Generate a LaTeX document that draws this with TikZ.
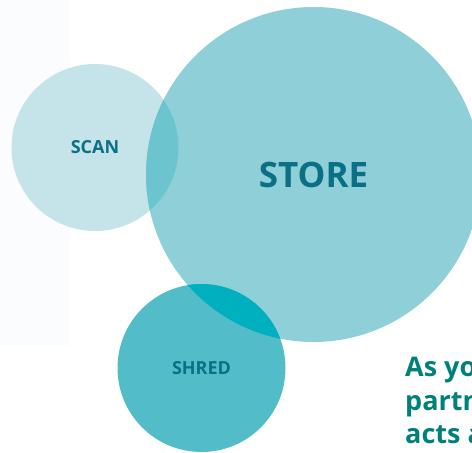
\documentclass[tikz,border=0pt]{standalone}
\usepackage{fontspec}
\setmainfont{Open Sans}
\usetikzlibrary{positioning}
\definecolor{paper}{RGB}{251,252,254}
\definecolor{scanblue}{RGB}{197,228,234}
\definecolor{storeblue}{RGB}{143,208,216}
\definecolor{shredblue}{RGB}{82,189,201}
\definecolor{scanstore}{RGB}{108,196,207}
\definecolor{storeshred}{RGB}{0,176,191}
\definecolor{labelteal}{RGB}{11,111,134}
\definecolor{leadgreen}{RGB}{0,128,122}
\tikzstyle{bubble}=[circle,inner sep=0pt,text=labelteal,font=\bfseries\fontsize{18}{20}\selectfont]
\tikzstyle{lead}=[anchor=base west,inner sep=0pt,text=leadgreen,font=\bfseries\fontsize{27}{33}\selectfont]

\begin{document}
\begin{tikzpicture}[x=1pt,y=-1pt]
\useasboundingbox (0,0) rectangle (472,453);
\fill[paper] (0,0) rectangle (70,345);
\draw (95,147.5) node [bubble, fill=scanblue, minimum size=167pt] (scan) {SCAN};
\draw (313.5,174.5) node [bubble, fill=storeblue, minimum size=335pt, font=\bfseries\fontsize{35}{40}\selectfont] (store) {STORE};
\draw (201.5,368) node [bubble, fill=shredblue, minimum size=168pt] (shred) {SHRED};
% overlaps
\begin{scope}
\clip (scan.center) circle (83.5pt);
\fill[scanstore] (store.center) circle (167.5pt);
\end{scope}
\begin{scope}
\clip (shred.center) circle (84pt);
\fill[storeshred] (store.center) circle (167.5pt);
\end{scope}
\draw (405,376) node [lead] (as) {As you};
\draw (405,410) node [lead] (partner) {partne};
\draw (405,443) node [lead] (acts) {acts a};
\end{tikzpicture}
\end{document}
